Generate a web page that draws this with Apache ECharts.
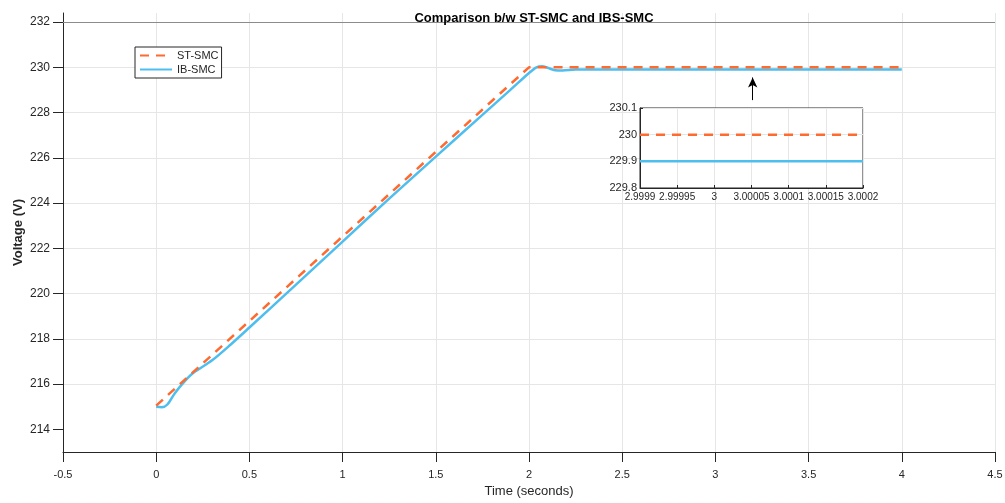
<!DOCTYPE html>
<html>
<head>
<meta charset="utf-8">
<script src="https://cdn.jsdelivr.net/npm/echarts@6/dist/echarts.min.js"></script>
<style>
  html, body { margin: 0; padding: 0; background: #fff; }
  #chart { width: 1005px; height: 503px; }
</style>
</head>
<body>
<div id="chart"></div>
<script>
// main plot data
const stTime = [0, 2.0, 4.0]
const stVolt = [215.05, 230.0, 230.0]

const ibTime = [0, 0.03, 0.06, 0.1, 0.15, 0.2, 0.3, 0.4, 0.5, 0.75, 1.0, 1.25, 1.5, 1.75, 1.9, 2.0, 2.04, 2.07, 2.1, 2.14, 2.18, 2.25, 3.0, 4.0]
const ibVolt = [215.0, 214.98, 215.1, 215.6, 216.1, 216.5, 217.05, 217.75, 218.5, 220.4, 222.3, 224.2, 226.05, 227.9, 229.0, 229.75, 230.0, 230.05, 229.98, 229.87, 229.86, 229.9, 229.9, 229.9]

const yTicks = [214, 216, 218, 220, 222, 224, 226, 228, 230, 232]

// zoomed inset data
const zoomTime = [2.9999, 3.0002]
const zoomSt = [230.0, 230.0]
const zoomIb = [229.9, 229.9]

// arrow pointing at the zoomed region
const arrowX = 3.2
const arrowFrom = 228.55
const arrowTo = 229.55

const pairs = (xs, ys) => xs.map((x, i) => [x, ys[i]])

const FONT = 'Liberation Sans'
const TXT = '#262626'
const GRID = '#e6e6e6'
const ORANGE = '#FF6A30'
const BLUE = '#4DBEEE'

const chart = echarts.init(document.getElementById('chart'))

chart.setOption({
  animation: false,
  backgroundColor: '#fff',
  textStyle: { fontFamily: FONT },
  title: {
    text: 'Comparison b/w ST-SMC and IBS-SMC',
    left: 529,
    top: 7,
    textAlign: 'center',
    textStyle: { fontSize: 13, fontWeight: 'bold', color: '#000', fontFamily: FONT },
  },
  legend: {
    data: ['ST-SMC', 'IB-SMC'],
    left: 135,
    top: 47,
    orient: 'vertical',
    itemWidth: 32,
    itemHeight: 10,
    itemGap: 3,
    padding: [3, 3, 3, 4],
    backgroundColor: '#fff',
    borderColor: '#262626',
    borderWidth: 1,
    itemStyle: { opacity: 0 },
    textStyle: { fontSize: 11, color: TXT, fontFamily: FONT },
  },
  grid: [
    { left: 63, right: 10, top: 13, bottom: 51, outerBoundsMode: 'none' },
    { left: 640, top: 108, width: 223, height: 80, outerBoundsMode: 'none', show: true, backgroundColor: '#fff', borderColor: '#262626', borderWidth: 1, z: 5 },
  ],
  xAxis: [
    {
      gridIndex: 0,
      type: 'value',
      min: -0.5,
      max: 4.5,
      interval: 0.5,
      name: 'Time (seconds)',
      nameLocation: 'middle',
      nameGap: 33,
      nameMoveOverlap: false,
      nameTextStyle: { fontSize: 13, color: TXT },
      axisLine: { show: true, onZero: false, lineStyle: { color: '#262626' } },
      axisTick: { show: true, length: 10, lineStyle: { color: '#262626' } },
      axisLabel: { fontSize: 11, color: TXT, margin: 17 },
      splitLine: { show: true, lineStyle: { color: GRID } },
    },
    {
      gridIndex: 1,
      type: 'value',
      min: 2.9999,
      max: 3.0002,
      interval: 0.00005,
      axisLine: { show: true, onZero: false, lineStyle: { color: '#262626' } },
      axisTick: { show: true, inside: true, length: 3, lineStyle: { color: '#262626' } },
      axisLabel: { fontSize: 10, color: TXT, margin: 4, formatter: v => String(parseFloat(v.toFixed(5))) },
      splitLine: { show: true, lineStyle: { color: GRID } },
      z: 5,
    },
  ],
  yAxis: [
    {
      gridIndex: 0,
      type: 'value',
      min: 213,
      max: 232.4,
      name: 'Voltage (V)',
      nameLocation: 'middle',
      nameGap: 38,
      nameMoveOverlap: false,
      nameTextStyle: { fontSize: 13, fontWeight: 'bold', color: TXT },
      axisLine: { show: true, onZero: false, lineStyle: { color: '#262626' } },
      axisTick: { show: true, length: 10, customValues: yTicks, lineStyle: { color: '#262626' } },
      axisLabel: { fontSize: 12, color: TXT, margin: 13, customValues: yTicks },
      splitLine: { show: true, showMinLine: false, showMaxLine: false, lineStyle: { color: GRID } },
    },
    {
      gridIndex: 1,
      type: 'value',
      min: 229.8,
      max: 230.1,
      interval: 0.1,
      axisLine: { show: true, onZero: false, lineStyle: { color: '#262626' } },
      axisTick: { show: true, inside: true, length: 3, lineStyle: { color: '#262626' } },
      axisLabel: { fontSize: 11, color: TXT, margin: 3, formatter: v => String(parseFloat(v.toFixed(1))) },
      splitLine: { show: true, lineStyle: { color: GRID } },
      z: 5,
    },
  ],
  series: [
    {
      name: 'ST-SMC',
      type: 'line',
      xAxisIndex: 0,
      yAxisIndex: 0,
      data: pairs(stTime, stVolt),
      symbol: 'none',
      color: ORANGE,
      lineStyle: { color: ORANGE, width: 2.5, type: [9, 7] },
      z: 3,
      markLine: {
        silent: true,
        symbol: ['none', 'arrow'],
        symbolSize: [7, 10],
        label: { show: false },
        lineStyle: { color: '#000', width: 1, type: 'solid' },
        data: [
          [{ coord: [arrowX, arrowFrom] }, { coord: [arrowX, arrowTo] }],
        ],
      },
    },
    {
      name: 'IB-SMC',
      type: 'line',
      xAxisIndex: 0,
      yAxisIndex: 0,
      data: pairs(ibTime, ibVolt),
      smooth: 0.3,
      symbol: 'none',
      color: BLUE,
      lineStyle: { color: BLUE, width: 2.5 },
      z: 2,
      markLine: {
        silent: true,
        symbol: 'none',
        label: { show: false },
        lineStyle: { color: '#8c8c8c', width: 1, type: 'solid' },
        data: [{ yAxis: yTicks[yTicks.length - 1] }],
      },
    },
    {
      name: 'ST-SMC',
      type: 'line',
      xAxisIndex: 1,
      yAxisIndex: 1,
      data: pairs(zoomTime, zoomSt),
      symbol: 'none',
      color: ORANGE,
      lineStyle: { color: ORANGE, width: 2.5, type: [9, 7] },
      z: 6,
    },
    {
      name: 'IB-SMC',
      type: 'line',
      xAxisIndex: 1,
      yAxisIndex: 1,
      data: pairs(zoomTime, zoomIb),
      symbol: 'none',
      color: BLUE,
      lineStyle: { color: BLUE, width: 2.5 },
      z: 6,
    },
  ],
})
</script>
</body>
</html>
